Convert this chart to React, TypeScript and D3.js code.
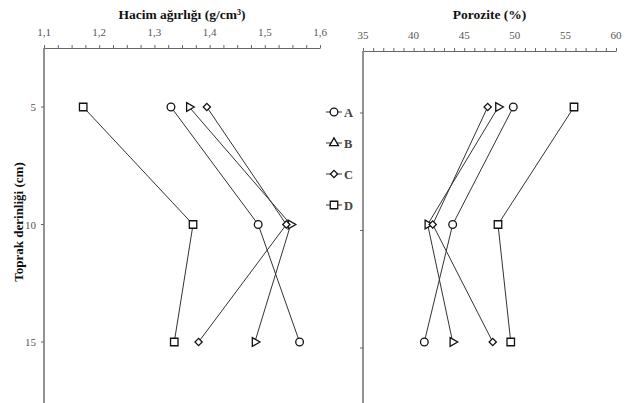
import React, { useEffect, useRef } from "react";
import * as d3 from "d3";

const depths = [5, 10, 15];
const series = ["A", "B", "C", "D"];
// Hacim ağırlığı (g/cm³)
const bulkA = [1.33, 1.488, 1.563];
const bulkB = [1.363, 1.547, 1.482];
const bulkC = [1.395, 1.539, 1.38];
const bulkD = [1.171, 1.37, 1.336];
// Porozite (%)
const porA = [49.85, 43.86, 41.06];
const porB = [48.37, 41.39, 43.86];
const porC = [47.32, 41.89, 47.82];
const porD = [55.85, 48.34, 49.6];

const bulkTicks = [1.1, 1.2, 1.3, 1.4, 1.5, 1.6];
const porTicks = [35, 40, 45, 50, 55, 60];

const W = 630;
const H = 403;
const FONT = "'Liberation Serif', 'Times New Roman', 'DejaVu Serif', serif";

const symbols: Record<string, any> = {
  A: d3.symbolCircle,
  B: d3.symbolTriangle,
  C: d3.symbolSquare,
  D: d3.symbolSquare,
};
const sizes: Record<string, number> = { A: 46, B: 34, C: 26, D: 56 };
const rot: Record<string, number> = { A: 0, B: 90, C: 45, D: 0 };

export default function App() {
  const ref = useRef<SVGSVGElement>(null);

  useEffect(() => {
    const svg = d3.select(ref.current);
    svg.selectAll("*").remove();

    const comma = d3.formatLocale({ decimal: ",", thousands: ".", grouping: [3], currency: ["", ""] });

    const y = d3.scaleLinear().domain([5, 15]).range([107, 342]);
    const yRightTicks = d3.scaleLinear().domain([5, 15]).range([113, 348]);
    const xBulk = d3.scaleLinear().domain([1.1, 1.6]).range([44, 320]);
    const xPor = d3.scaleLinear().domain([35, 60]).range([363, 616]);

    const bulkData = [bulkA, bulkB, bulkC, bulkD];
    const porData = [porA, porB, porC, porD];

    function panel(x: d3.ScaleLinear<number, number>, top: number, minor: number[], ticks: number[], fmt: (v: number) => string, title: string, vals: number[][], yTicks: d3.ScaleLinear<number, number>, showLabels: boolean) {
      const g = svg.append("g");
      const [x0, x1] = x.range();
      // top axis
      const ax = g.append("g").attr("transform", `translate(0,${top})`)
        .call(d3.axisTop(x).tickValues(minor).tickSize(3).tickSizeOuter(0).tickFormat(() => ""));
      ax.selectAll("path,line").attr("stroke", "#666").attr("stroke-width", 1);
      g.selectAll(".tl").data(ticks).enter().append("text")
        .attr("x", d => x(d)).attr("y", top - 12)
        .attr("text-anchor", "middle")
        .style("font-family", FONT).attr("font-size", 11).attr("fill", "#555")
        .text(d => fmt(d));
      g.append("text")
        .attr("x", (x0 + x1) / 2).attr("y", 19)
        .attr("text-anchor", "middle")
        .style("font-family", FONT).attr("font-size", 13.5).attr("font-weight", "bold").attr("fill", "#111")
        .text(title);
      // vertical axis
      g.append("line").attr("x1", x0).attr("x2", x0).attr("y1", top).attr("y2", H)
        .attr("stroke", "#777").attr("stroke-width", 1.6);
      g.selectAll(".yt").data(depths).enter().append("line")
        .attr("x1", x0 - 3).attr("x2", x0).attr("y1", d => yTicks(d)).attr("y2", d => yTicks(d))
        .attr("stroke", "#666");
      if (showLabels) {
        g.selectAll(".yl").data(depths).enter().append("text")
          .attr("x", x0 - 8).attr("y", d => yTicks(d) + 4)
          .attr("text-anchor", "end")
          .style("font-family", FONT).attr("font-size", 11).attr("fill", "#555")
          .text(d => String(d));
      }
      const line = d3.line<number>().x(d => x(d)).y((_, i) => y(depths[i]));
      series.forEach((s, si) => {
        g.append("path").datum(vals[si]).attr("d", line)
          .attr("fill", "none").attr("stroke", "#333").attr("stroke-width", 1);
      });
      series.forEach((s, si) => {
        g.selectAll(".m" + s).data(vals[si]).enter().append("path")
          .attr("d", d3.symbol().type(symbols[s]).size(sizes[s]))
          .attr("transform", (d, i) => `translate(${x(d)},${y(depths[i])}) rotate(${rot[s]})`)
          .attr("fill", "white").attr("stroke", "#111").attr("stroke-width", 1.3);
      });
    }

    panel(xBulk, 48, d3.range(0, 21).map(i => 1.1 + i * 0.025), bulkTicks, v => comma.format(".1f")(v),
      "Hacim ağırlığı (g/cm³)", bulkData, y, true);
    panel(xPor, 51, d3.range(35, 61), porTicks, v => String(v),
      "Porozite (%)", porData, yRightTicks, false);

    // y title
    svg.append("text")
      .attr("transform", `translate(23,222) rotate(-90)`)
      .attr("text-anchor", "middle")
      .style("font-family", FONT).attr("font-size", 13).attr("font-weight", "bold").attr("fill", "#111")
      .text("Toprak derinliği (cm)");

    // legend
    const legY = d3.scalePoint().domain(series).range([112, 205]);
    const lg = svg.append("g");
    series.forEach(s => {
      const yy = legY(s) as number;
      lg.append("line").attr("x1", 326).attr("x2", 342).attr("y1", yy).attr("y2", yy).attr("stroke", "#333");
      lg.append("path").attr("d", d3.symbol().type(symbols[s]).size(sizes[s])())
        .attr("transform", `translate(334,${yy}) rotate(${s === "C" ? 45 : 0})`)
        .attr("fill", "white").attr("stroke", "#111").attr("stroke-width", 1.3);
      lg.append("text").attr("x", 344).attr("y", yy + 4.5)
        .style("font-family", FONT).attr("font-size", 12.5).attr("font-weight", "bold").attr("fill", "#444")
        .text(s);
    });
  }, []);

  return (
    <svg ref={ref} width={W} height={H} style={{ position: "absolute", left: 0, top: 0, background: "white" }} />
  );
}
